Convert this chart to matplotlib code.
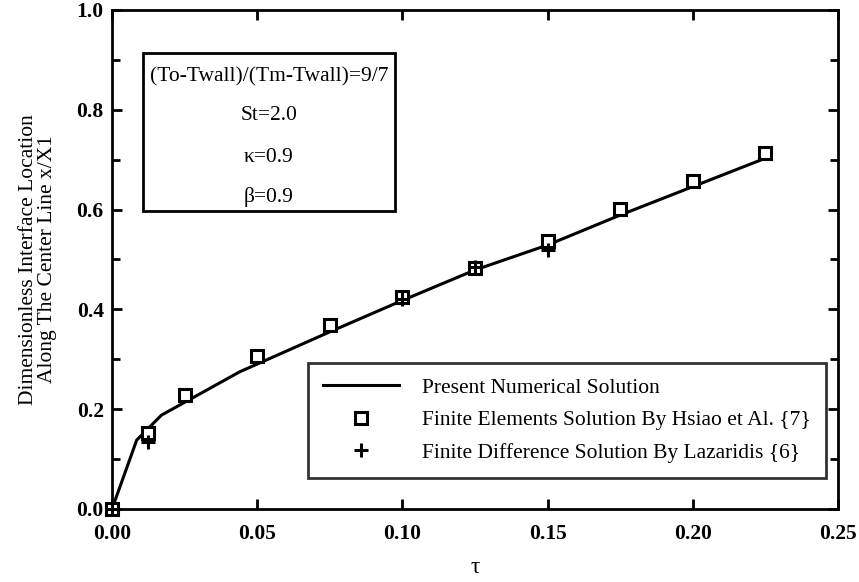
import numpy as np
import matplotlib.pyplot as plt
from matplotlib.ticker import MultipleLocator

plt.rcParams['font.family'] = ['Liberation Serif', 'DejaVu Serif']
plt.rcParams['font.weight'] = 'bold'

# present numerical solution
tau_line = [0.0, 0.0085, 0.017, 0.044, 0.075, 0.100, 0.125, 0.150, 0.175, 0.200, 0.225]
x_line = [0.0, 0.138, 0.188, 0.275, 0.355, 0.418, 0.479, 0.529, 0.589, 0.646, 0.703]

# finite elements (Hsiao et al.)
tau_fe = [0.0, 0.0125, 0.025, 0.05, 0.075, 0.10, 0.125, 0.15, 0.175, 0.20, 0.225]
x_fe = [0.0, 0.152, 0.228, 0.307, 0.368, 0.425, 0.483, 0.537, 0.601, 0.657, 0.713]

# finite difference (Lazaridis)
tau_fd = [0.0, 0.0125, 0.10, 0.125, 0.15]
x_fd = [0.0, 0.135, 0.420, 0.485, 0.519]

fig = plt.figure(figsize=(8.59, 5.82), dpi=100)
ax = fig.add_axes([112 / 859, 73 / 582, 726 / 859, 499 / 582])

ax.plot(tau_line, x_line, color='black', lw=2.2, label='Present Numerical Solution')
ax.plot(tau_fe, x_fe, ls='none', marker='s', ms=8, mfc='white', mec='black', mew=2.2,
        clip_on=False, label='Finite Elements Solution By Hsiao et Al. {7}')
ax.plot(tau_fd, x_fd, ls='none', marker='+', ms=10, mec='black', mew=2.2,
        clip_on=False, label='Finite Difference Solution By Lazaridis {6}')

ax.set_xlim(0, 0.25)
ax.set_ylim(0, 1.0)
ax.xaxis.set_major_locator(MultipleLocator(0.05))
ax.yaxis.set_major_locator(MultipleLocator(0.2))
ax.yaxis.set_minor_locator(MultipleLocator(0.1))
ax.xaxis.set_major_formatter(plt.FormatStrFormatter('%.2f'))
ax.yaxis.set_major_formatter(plt.FormatStrFormatter('%.1f'))
ax.tick_params(which='both', direction='in', top=True, right=True, width=2)
ax.tick_params(which='major', length=7, labelsize=15.5)
ax.tick_params(axis='x', which='major', pad=11)
ax.tick_params(axis='y', which='major', pad=6)
ax.tick_params(which='minor', length=6)
for s in ax.spines.values():
    s.set_linewidth(2)

ax.set_xlabel('τ', fontsize=17, labelpad=9)
ax.set_ylabel('Dimensionless Interface Location\nAlong The Center Line x/X1',
              fontsize=15.5, labelpad=14, fontweight='normal', linespacing=1.0)

# parameter box
box_txt = ['(To-Twall)/(Tm-Twall)=9/7', 'St=2.0', 'κ=0.9', 'β=0.9']
fig.patches.append(plt.Rectangle((143 / 859, 1 - 211 / 582), 252 / 859, 158 / 582,
                                 transform=fig.transFigure, fill=False, lw=2, ec='black'))
for t, yp in zip(box_txt, [77, 116, 158, 197]):
    fig.text(269 / 859, 1 - yp / 582, t, ha='center', va='center', fontsize=15.5,
             fontweight='normal')

leg = ax.legend(loc='lower right', bbox_to_anchor=(0.9835, 0.062), fontsize=15.5,
                frameon=True, fancybox=False, edgecolor='black', borderpad=0.7,
                handlelength=3.5, handletextpad=1.1, labelspacing=0.58, borderaxespad=0)
leg.get_frame().set_linewidth(2)
for txt in leg.get_texts():
    txt.set_fontweight('normal')

fig.savefig('out.png', dpi=100)
